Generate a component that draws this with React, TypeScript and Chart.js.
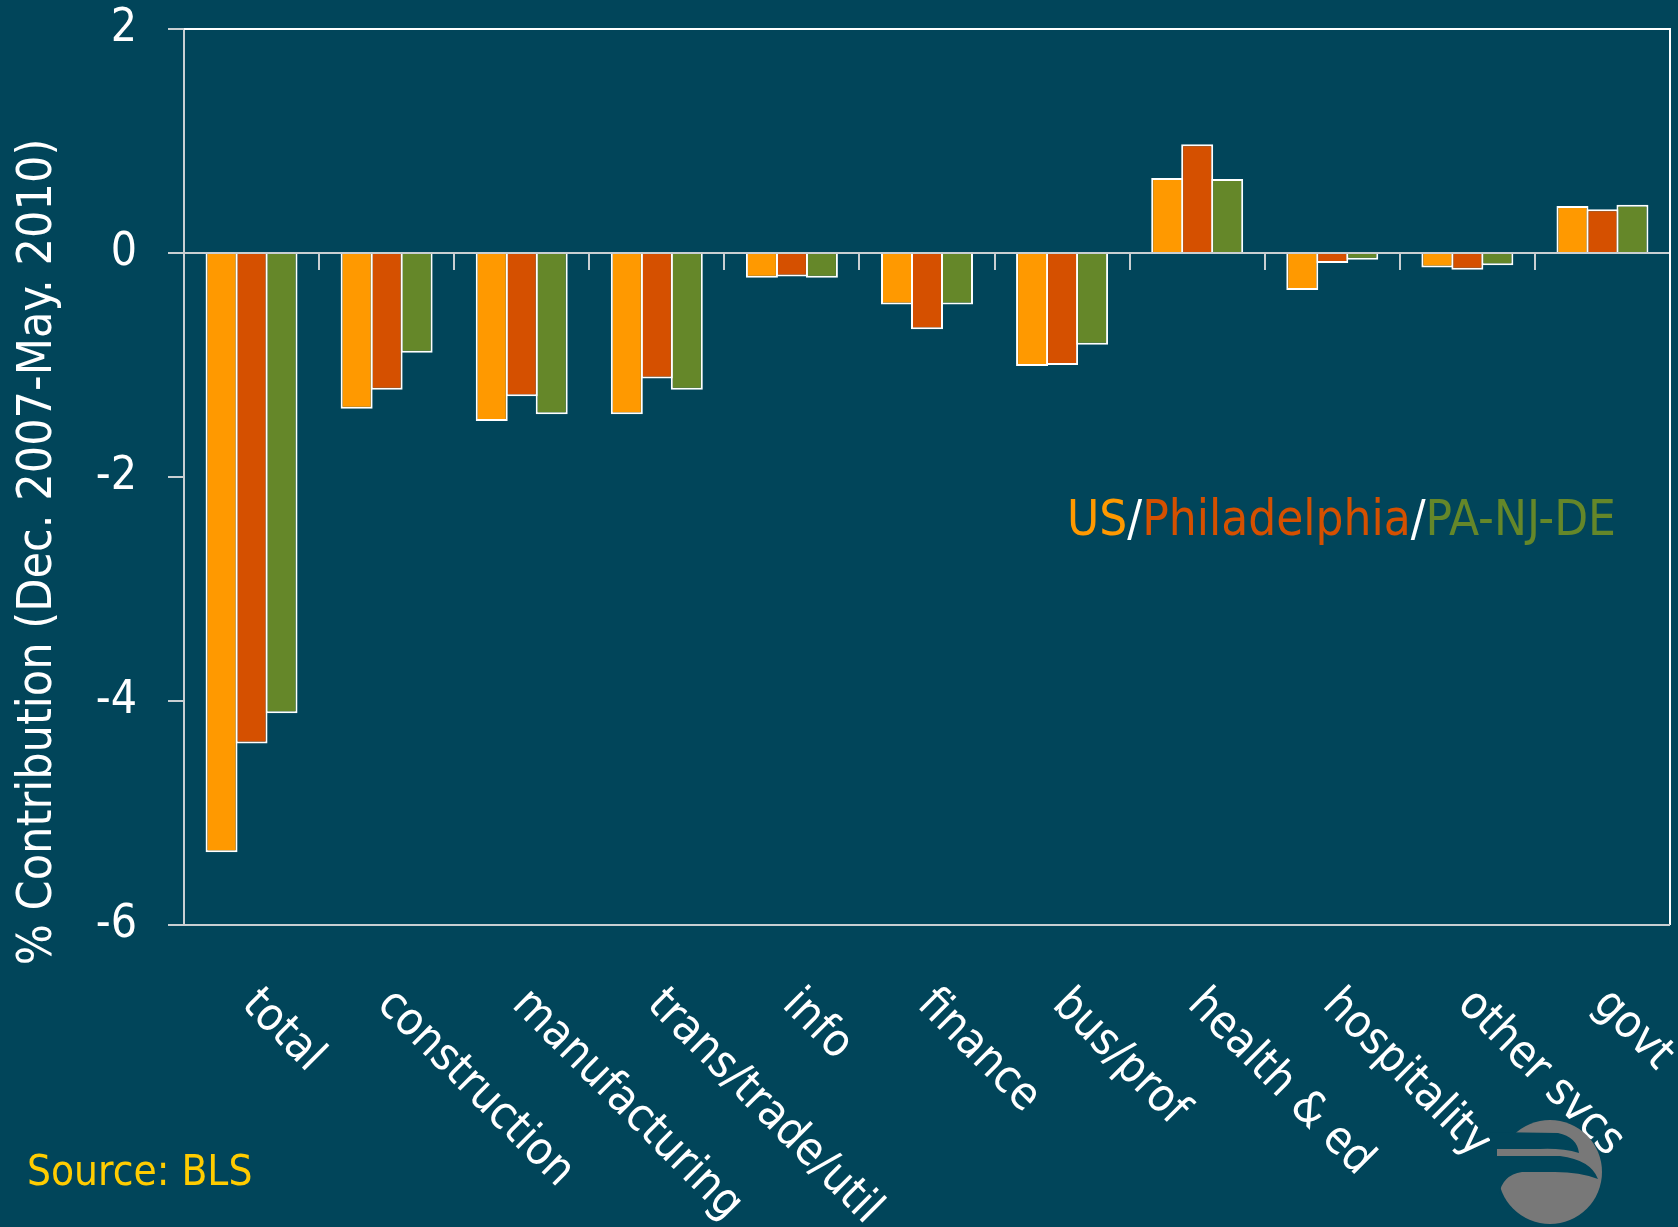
import React, { useEffect, useRef } from 'react';
import { Chart, registerables } from 'chart.js';

Chart.register(...registerables);

const categories = ['total', 'construction', 'manufacturing', 'trans/trade/util', 'info', 'finance', 'bus/prof', 'health & ed', 'hospitality', 'other svcs', 'govt'];
const usValues = [-5.35, -1.39, -1.5, -1.44, -0.22, -0.46, -1.01, 0.67, -0.33, -0.13, 0.42];
const phillyValues = [-4.38, -1.22, -1.28, -1.12, -0.21, -0.68, -1.0, 0.97, -0.09, -0.15, 0.39];
const regionValues = [-4.11, -0.89, -1.44, -1.22, -0.22, -0.46, -0.82, 0.66, -0.06, -0.11, 0.43];
const seriesNames = ['US', 'Philadelphia', 'PA-NJ-DE'];
const yMin = -6;
const yMax = 2;
const yStep = 2;
const yTitle = '% Contribution (Dec. 2007-May. 2010)';
const sourceText = 'Source: BLS';

const BG = '#01455A';
const COLORS = ['#FF9900', '#D55000', '#658729'];
const AXIS = '#C9CFD2';
const FONT = '"DejaVu Sans Condensed", "DejaVu Sans", sans-serif';

const decorPlugin = {
  id: 'decor',
  beforeDraw(chart: any) {
    const ctx = chart.ctx;
    ctx.save();
    ctx.fillStyle = BG;
    ctx.fillRect(0, 0, chart.width, chart.height);
    ctx.restore();
  },
  afterDraw(chart: any) {
    const ctx = chart.ctx;
    const ca = chart.chartArea;
    const xs = chart.scales.x;
    ctx.save();
    // frame
    ctx.lineWidth = 2;
    ctx.strokeStyle = '#FFFFFF';
    ctx.beginPath();
    ctx.moveTo(ca.left, ca.top);
    ctx.lineTo(ca.right, ca.top);
    ctx.lineTo(ca.right, ca.bottom);
    ctx.stroke();
    ctx.strokeStyle = AXIS;
    ctx.beginPath();
    ctx.moveTo(ca.left, ca.bottom);
    ctx.lineTo(ca.right, ca.bottom);
    ctx.stroke();

    // rotated category labels
    ctx.fillStyle = '#FFFFFF';
    ctx.font = `46px ${FONT}`;
    ctx.textAlign = 'left';
    ctx.textBaseline = 'alphabetic';
    categories.forEach((lab, i) => {
      const x = xs.getPixelForValue(i);
      ctx.save();
      ctx.translate(x - 11, ca.bottom + 81);
      ctx.rotate(Math.PI / 4);
      ctx.fillText(lab, 0, 0);
      ctx.restore();
    });

    // y title
    ctx.save();
    ctx.font = `48px ${FONT}`;
    ctx.textAlign = 'center';
    ctx.translate(51, 552);
    ctx.rotate(-Math.PI / 2);
    ctx.fillText(yTitle, 0, 0);
    ctx.restore();

    // series key text
    ctx.font = `49px ${FONT}`;
    ctx.textAlign = 'left';
    let lx = 1067;
    const ly = 535;
    seriesNames.forEach((name, i) => {
      ctx.fillStyle = COLORS[i];
      ctx.fillText(name, lx, ly);
      lx += ctx.measureText(name).width;
      if (i < seriesNames.length - 1) {
        ctx.fillStyle = '#FFFFFF';
        ctx.fillText('/', lx, ly);
        lx += ctx.measureText('/').width;
      }
    });

    // source
    ctx.font = `42px ${FONT}`;
    ctx.fillStyle = '#FFCC00';
    ctx.fillText(sourceText, 27, 1185);

    // logo
    ctx.fillStyle = '#787878';
    ctx.beginPath();
    ctx.arc(1550, 1172, 52, 0, Math.PI * 2);
    ctx.fill();
    ctx.fillStyle = BG;
    ctx.beginPath();
    ctx.moveTo(1490, 1132);
    ctx.lineTo(1558, 1133);
    ctx.quadraticCurveTo(1577, 1137, 1579, 1153);
    ctx.quadraticCurveTo(1562, 1148, 1540, 1149);
    ctx.lineTo(1490, 1149);
    ctx.closePath();
    ctx.fill();
    ctx.beginPath();
    ctx.moveTo(1490, 1156);
    ctx.lineTo(1560, 1156);
    ctx.quadraticCurveTo(1591, 1160, 1598, 1179);
    ctx.quadraticCurveTo(1580, 1172, 1555, 1172);
    ctx.lineTo(1522, 1172);
    ctx.quadraticCurveTo(1502, 1175, 1499, 1195);
    ctx.lineTo(1490, 1195);
    ctx.closePath();
    ctx.fill();
    ctx.fillStyle = '#787878';
    ctx.fillRect(1497, 1149, 30, 7);
    ctx.restore();
  },
};

export default function App() {
  const ref = useRef<HTMLCanvasElement>(null);
  useEffect(() => {
    if (!ref.current) return;
    const mk = (label: string, data: number[], color: string) => ({
      label,
      data,
      backgroundColor: color,
      borderColor: '#FFFFFF',
      borderWidth: 2,
      categoryPercentage: 0.666,
      barPercentage: 1.0667,
    });
    const chart = new Chart(ref.current, {
      type: 'bar',
      data: {
        labels: categories,
        datasets: [
          mk(seriesNames[0], usValues, COLORS[0]),
          mk(seriesNames[1], phillyValues, COLORS[1]),
          mk(seriesNames[2], regionValues, COLORS[2]),
        ],
      },
      options: {
        responsive: false,
        animation: false,
        layout: { padding: { left: 0, top: 29, right: 8, bottom: 302 } },
        plugins: { legend: { display: false }, tooltip: { enabled: false }, title: { display: false } },
        scales: {
          x: {
            type: 'category',
            position: { y: 0 } as any,
            offset: true,
            z: 1,
            afterFit: (s: any) => { s.height = 0; s.paddingLeft = 0; s.paddingRight = 0; },
            grid: { offset: true, drawOnChartArea: false, color: AXIS, lineWidth: 2, tickLength: 16 },
            border: { color: AXIS, width: 2 },
            ticks: { display: false },
          },
          y: {
            min: yMin,
            max: yMax,
            afterFit: (s: any) => { s.width = 184; s.paddingTop = 0; s.paddingBottom = 0; },
            grid: { drawOnChartArea: false, color: AXIS, lineWidth: 2, tickLength: 16 },
            border: { color: AXIS, width: 2 },
            ticks: {
              stepSize: yStep,
              color: '#FFFFFF',
              padding: 31,
              font: { family: FONT, size: 46 },
            },
          },
        },
      },
      plugins: [decorPlugin],
    });
    return () => chart.destroy();
  }, []);
  return (
    <div style={{ position: 'absolute', left: 0, top: 0, width: 1678, height: 1227, background: BG }}>
      <canvas ref={ref} width={1678} height={1227} style={{ display: 'block', width: 1678, height: 1227 }} />
    </div>
  );
}
